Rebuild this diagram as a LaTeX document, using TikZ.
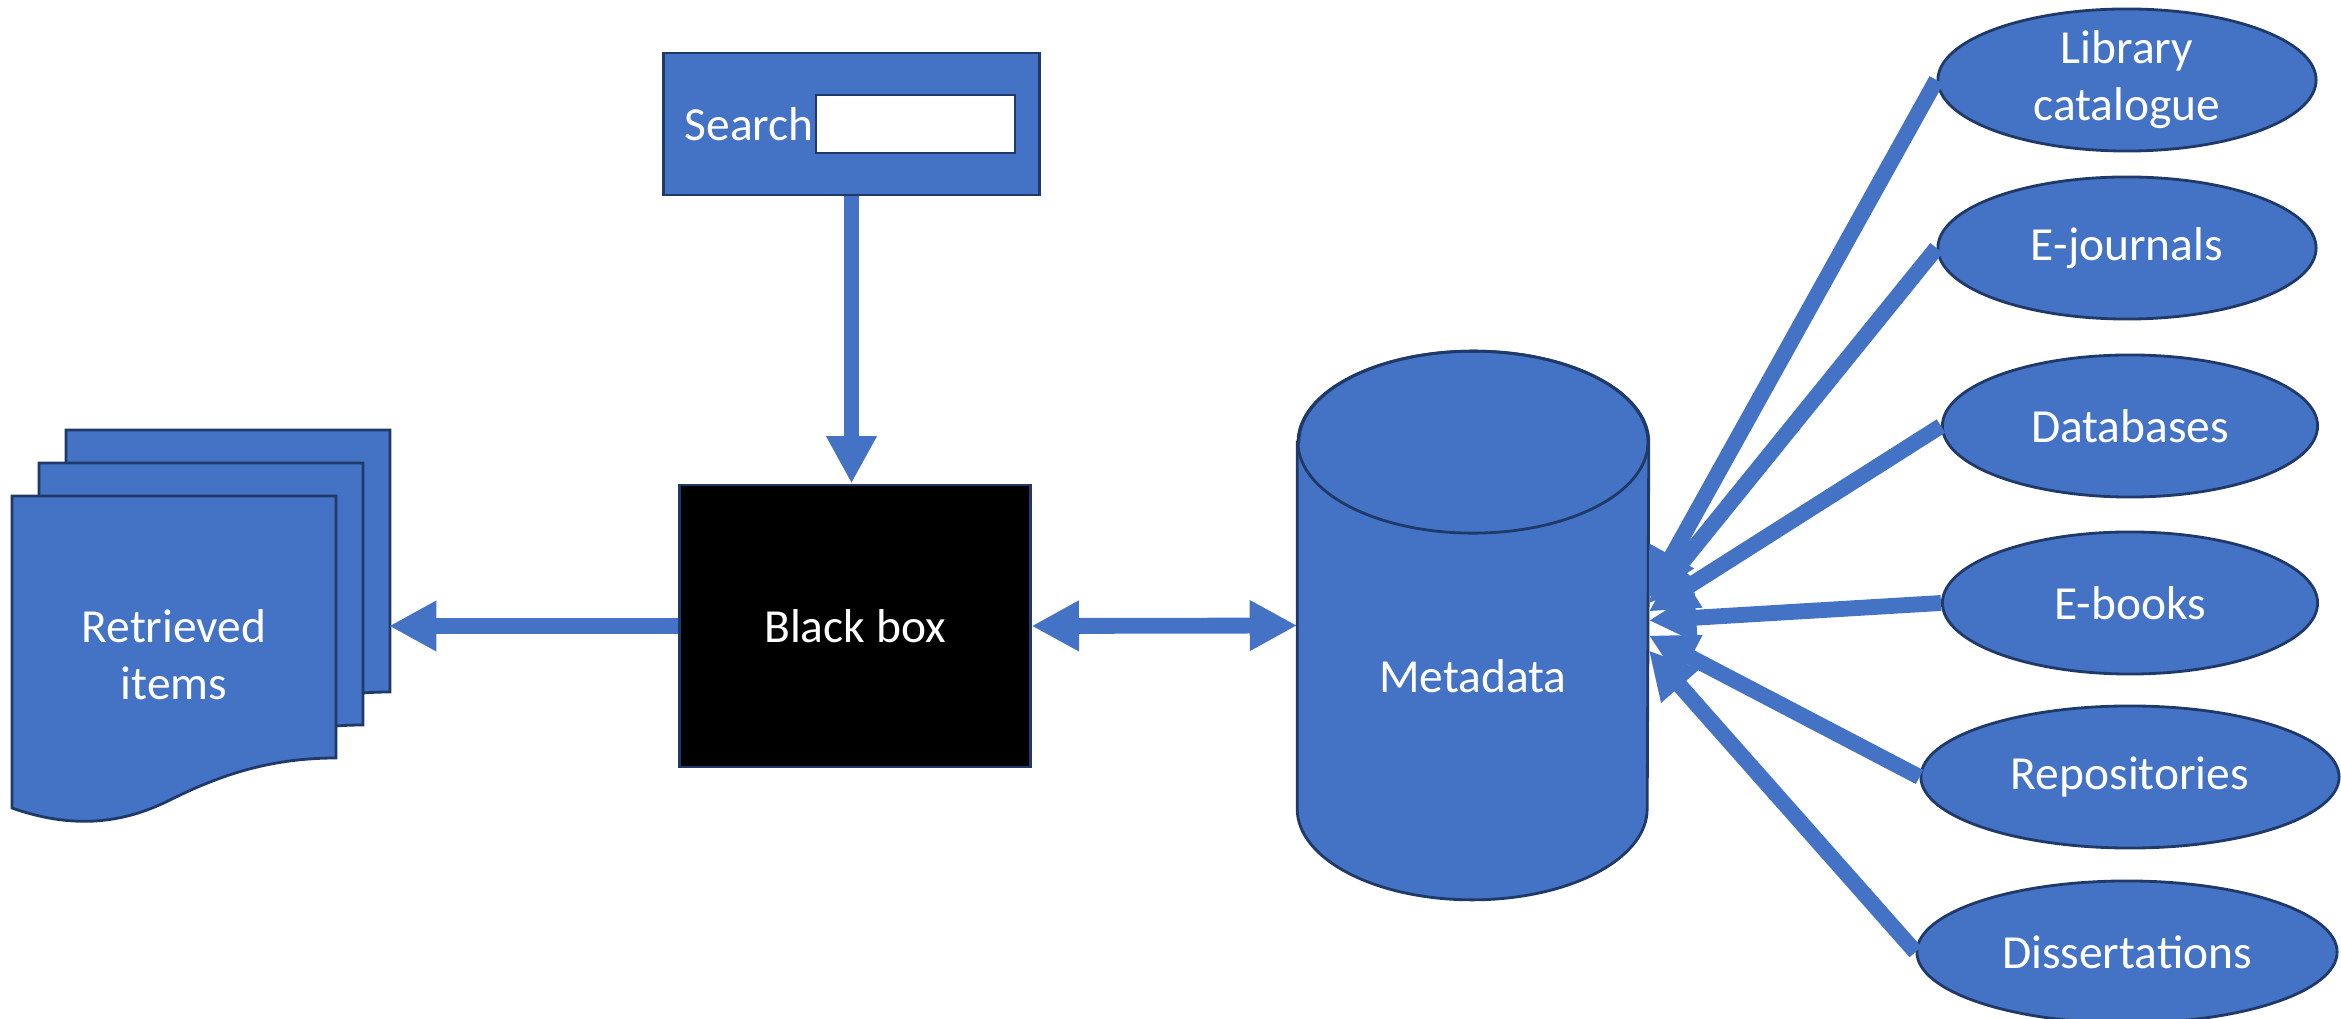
\documentclass[tikz,border=0pt]{standalone}
\usepackage{fontspec}
\setmainfont{Carlito}
\usetikzlibrary{shapes, arrows.meta, positioning, calc}
\definecolor{boxblue}{HTML}{4472C4}
\definecolor{boxline}{HTML}{1F3A68}
\tikzstyle{block} = [rectangle, draw=boxline, line width=0.8pt, fill=boxblue, text=white]
\tikzstyle{source} = [ellipse, draw=boxline, line width=0.8pt, fill=boxblue, text=white, align=center, inner sep=0pt, minimum height=1.42cm]
\tikzstyle{link} = [draw=boxblue, line width=4.5pt, -{Triangle[width=13.5pt, length=13.5pt]}]

\begin{document}
\begin{tikzpicture}[x=0.01cm, y=-0.01cm, font=\fontsize{13.5}{16.2}\selectfont]
		\useasboundingbox (0,0) rectangle (2341,1019);

		% search form
		\node [block, minimum width=3.75cm, minimum height=1.42cm] (search) at (851.5,124) {};
		\node [rectangle, draw=boxline, line width=0.8pt, fill=white, minimum width=1.99cm, minimum height=0.58cm] (field) at (915.5,124) {};
		\node [text=white, anchor=east, inner sep=0pt] (searchlabel) at (field.west) {Search};

		\node [block, fill=black, minimum width=3.5cm, minimum height=2.82cm] (black) at (855,626) {Black box};

		% metadata store
		\node [inner sep=0pt, minimum width=3.5cm, minimum height=5.47cm] (meta) at (1473,625.5) {};
		\draw [boxline, fill=boxblue, line width=0.8pt] ($(meta.north west)+(0,91)$) -- ($(meta.south west)+(0,-91)$)
			arc [start angle=180, end angle=0, x radius=175, y radius=91] -- ($(meta.north east)+(0,91)$)
			arc [start angle=0, end angle=-180, x radius=175, y radius=91] -- cycle;
		\draw [boxline, line width=0.8pt] ($(meta.north)+(0,91)$) ellipse [x radius=175, y radius=91];
		\node [text=white] (metalabel) at ($(meta.center)+(0,51)$) {Metadata};

		% stacked pages
		\foreach \dx/\dy in {54/-66, 27/-33, 0/0} {
			\draw [boxline, fill=boxblue, line width=0.8pt, shift={(\dx,\dy)}] (12,496) -- (336,496) -- (336,758) .. controls (270,758) and (220,775) .. (170,800) .. controls (130,820) and (80,832) .. (12,808) -- cycle;
		}
		\node [text=white, align=center] (docs) at (174,655) {Retrieved\\items};
		\coordinate (docsedge) at (389,626);

		\node [source, minimum width=3.78cm] (library) at (2127,80) {Library\\catalogue};
		\node [source, minimum width=3.78cm] (journals) at (2127,248) {E-journals};
		\node [source, minimum width=3.75cm] (databases) at (2130,426) {Databases};
		\node [source, minimum width=3.75cm] (ebooks) at (2130,603) {E-books};
		\node [source, minimum width=4.18cm] (repos) at (2130,777) {Repositories};
		\node [source, minimum width=4.2cm] (diss) at (2127,952) {Dissertations};

		\draw [link] (search.south) -- (search.south |- black.north);
		\draw [link] (black.west) -- (docsedge);
		\draw [link, {Triangle[width=13.5pt, length=13.5pt]}-{Triangle[width=13.5pt, length=13.5pt]}] (black.east) -- (meta.west);
		\foreach \src/\dy in {library/-28, journals/-22, databases/-14, ebooks/-5, repos/10, diss/25}
			\draw [link] (\src.west) -- ($(meta.east)+(0,\dy)$);
	\end{tikzpicture}
\end{document}
